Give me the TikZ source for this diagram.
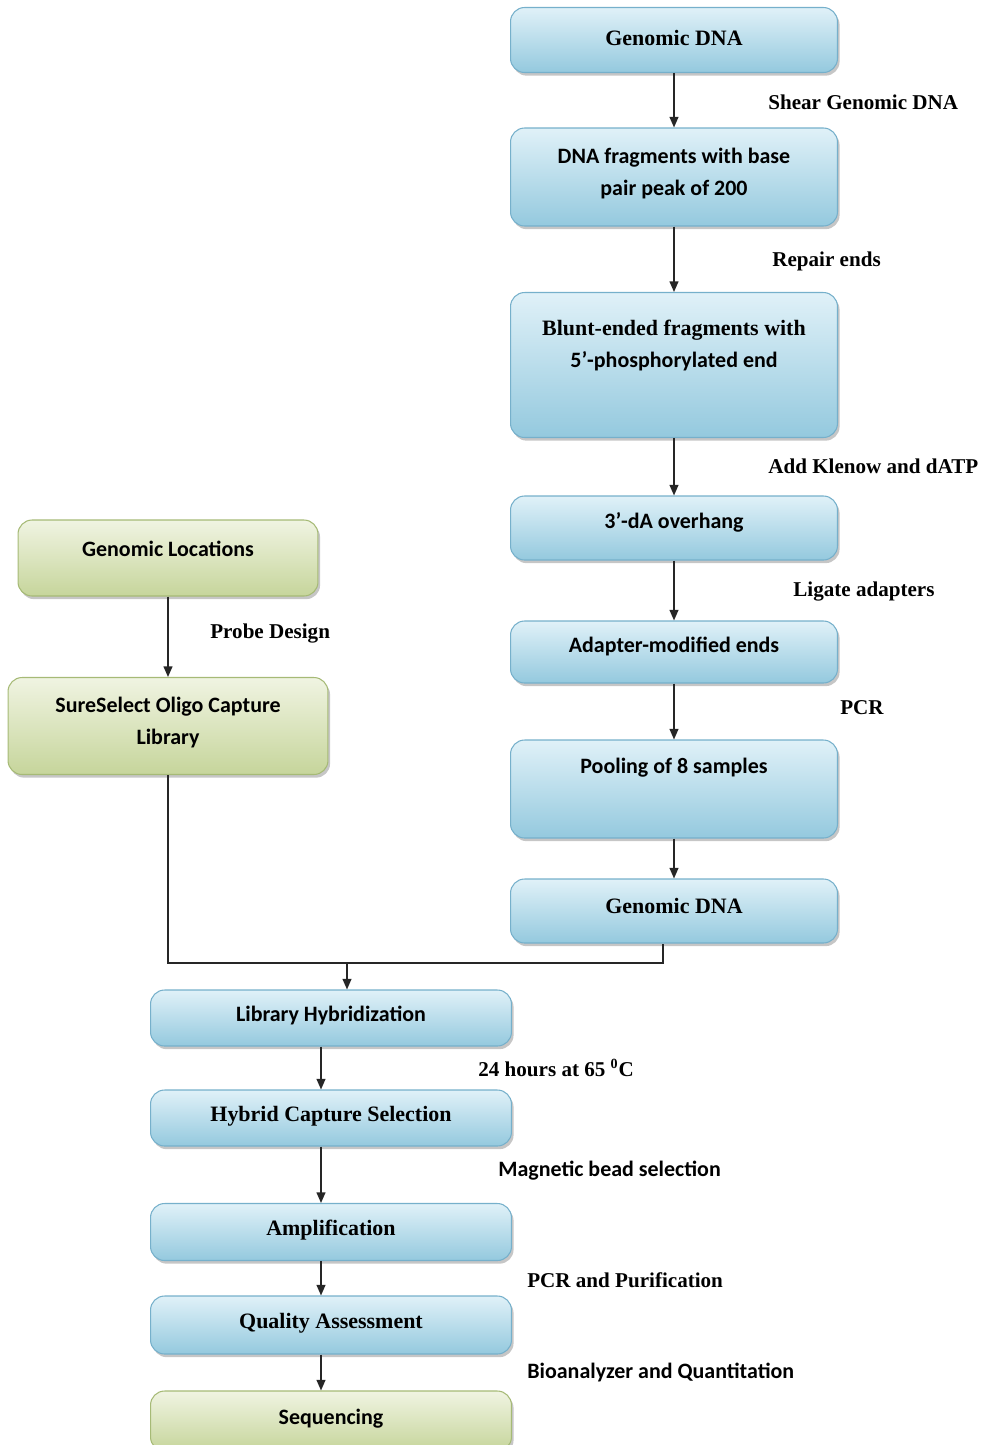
\documentclass[tikz,border=0pt]{standalone}
\usepackage{fontspec}
\setmainfont{Liberation Serif}
\newfontfamily\calibri{Carlito}
\usetikzlibrary{arrows.meta,shadows}
\definecolor{bluetop}{RGB}{224,241,248}
\definecolor{bluebot}{RGB}{148,201,222}
\definecolor{blueline}{RGB}{118,176,203}
\definecolor{greentop}{RGB}{240,244,226}
\definecolor{greenbot}{RGB}{198,213,155}
\definecolor{greenline}{RGB}{166,186,118}
\tikzset{
	stepbox/.style={rounded corners=8pt, line width=0.6pt, align=center, inner sep=2pt,
		drop shadow={shadow xshift=1.2pt, shadow yshift=-1.8pt, opacity=0.45},
		font=\bfseries\fontsize{12.5}{18}\selectfont},
	bluebox/.style={stepbox, draw=blueline, top color=bluetop, bottom color=bluebot},
	greenbox/.style={stepbox, draw=greenline, top color=greentop, bottom color=greenbot},
	sans/.style={font=\calibri\bfseries\fontsize{12.5}{18}\selectfont},
	steplabel/.style={anchor=west, inner sep=0pt, font=\bfseries\fontsize{12}{14}\selectfont},
	flowline/.style={line width=0.9pt, black!85},
	flowarrow/.style={flowline, -{Triangle[length=6pt,width=5pt]}}
}

\begin{document}
\begin{tikzpicture}[x=0.02cm, y=-0.02cm]% {{{ capture sequencing workflow
	\useasboundingbox (0,0) rectangle (988,1445);

	% sample preparation
	\node[bluebox, minimum width=6.54cm, minimum height=1.3cm, text depth=2.5pt] (gdna) at (674,40) {Genomic DNA};
	\node[bluebox, sans, minimum width=6.54cm, minimum height=1.96cm, text depth=6pt] (frag) at (674,177) {DNA fragments with base\\pair peak of 200};
	\node[bluebox, minimum width=6.54cm, minimum height=2.9cm, text depth=24pt] (blunt) at (674,365) {Blunt-ended fragments with\\{\calibri 5’-phosphorylated end}};
	\node[bluebox, sans, minimum width=6.54cm, minimum height=1.28cm, text depth=9pt] (overhang) at (674,528) {3’-dA overhang};
	\node[bluebox, sans, minimum width=6.54cm, minimum height=1.24cm, text depth=8pt] (adapter) at (674,652) {Adapter-modified ends};
	\node[bluebox, sans, minimum width=6.54cm, minimum height=1.96cm, text depth=27pt] (pool) at (674,789) {Pooling of 8 samples};
	\node[bluebox, minimum width=6.54cm, minimum height=1.28cm, text depth=5.5pt] (pooled) at (674,911) {Genomic DNA};

	\foreach \a/\b in {gdna/frag, frag/blunt, blunt/overhang, overhang/adapter, adapter/pool, pool/pooled}
		\draw[flowarrow] (\a) -- (\b);

	\node[steplabel] (shear) at (768,102) {Shear Genomic DNA};
	\node[steplabel] (repair) at (772,261) {Repair ends};
	\node[steplabel] (klenow) at (768,466) {Add Klenow and dATP};
	\node[steplabel] (ligate) at (793,591) {Ligate adapters};
	\node[steplabel] (pcr) at (840,708) {PCR};

	% probe library
	\node[greenbox, sans, minimum width=6cm, minimum height=1.52cm, text depth=11pt] (loc) at (168,558) {Genomic Locations};
	\node[greenbox, sans, minimum width=6.4cm, minimum height=1.94cm, text depth=6pt] (sure) at (168,726) {SureSelect Oligo Capture\\Library};
	\draw[flowarrow] (loc) -- (sure);
	\node[steplabel] (probe) at (210,633) {Probe Design};

	% capture and sequencing
	\node[bluebox, sans, minimum width=7.22cm, minimum height=1.12cm, text depth=4.5pt] (hyb) at (331,1018) {Library Hybridization};
	\node[bluebox, minimum width=7.22cm, minimum height=1.12cm, text depth=4.5pt] (capt) at (331,1118) {Hybrid Capture Selection};
	\node[bluebox, minimum width=7.22cm, minimum height=1.14cm, text depth=4.5pt] (ampl) at (331,1232) {Amplification};
	\node[bluebox, minimum width=7.22cm, minimum height=1.16cm, text depth=4.5pt] (qual) at (331,1325) {Quality Assessment};
	\node[greenbox, sans, minimum width=7.22cm, minimum height=1.2cm, text depth=4.5pt] (seq) at (331,1421) {Sequencing};

	\coordinate (join) at (347,963);
	\draw[flowline] (sure.south) |- (join) -| ([xshift=-0.22cm]pooled.south);
	\draw[flowarrow] (join) -- (join |- hyb.north);
	\foreach \a/\b in {hyb/capt, capt/ampl, ampl/qual, qual/seq}
		\draw[flowarrow] ([xshift=-0.2cm]\a.south) -- ([xshift=-0.2cm]\b.north);

	\node[steplabel] (hours) at (478,1068) {24 hours at 65 \textsuperscript{0}C};
	\node[steplabel, sans] (bead) at (498,1171) {Magnetic bead selection};
	\node[steplabel] (purif) at (527,1280) {PCR and Purification};
	\node[steplabel, sans] (bioan) at (527,1372) {Bioanalyzer and Quantitation};
\end{tikzpicture}
\end{document}
